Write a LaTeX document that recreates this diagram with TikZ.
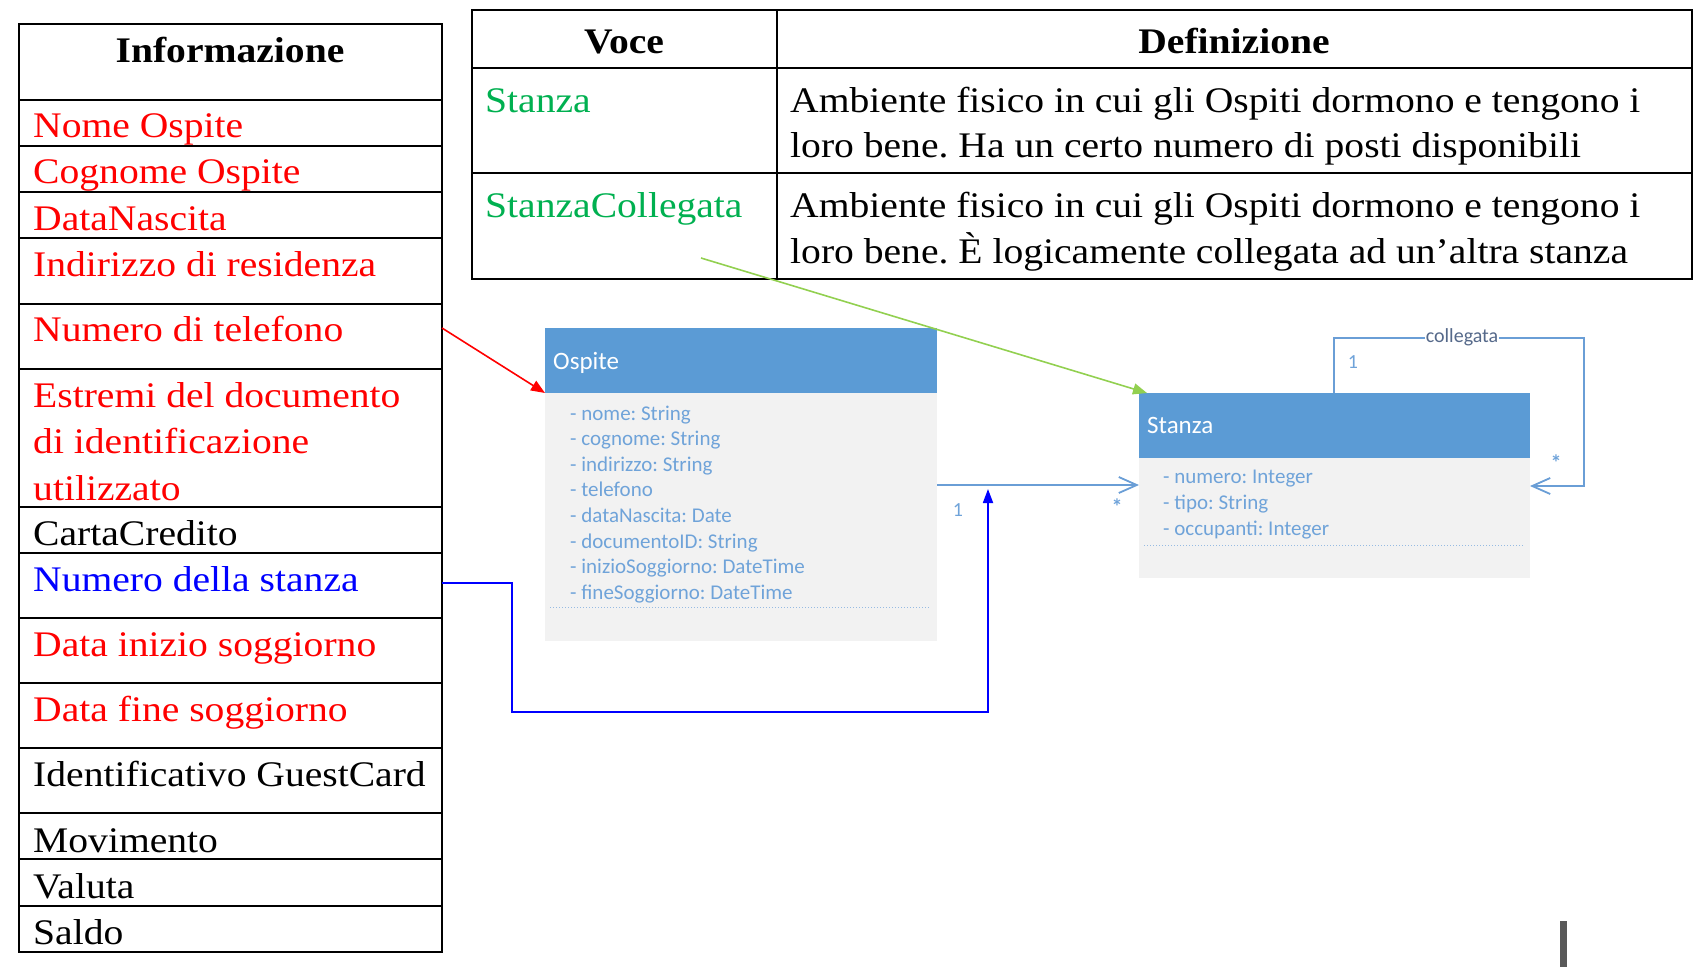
\documentclass[tikz,border=0pt]{standalone}
\usepackage{fontspec}
\setmainfont{Liberation Serif}[FakeStretch=1.1]
\newfontfamily\umlfont{Carlito}
\usetikzlibrary{arrows.meta,calc}
\definecolor{umlblue}{HTML}{5B9BD5}
\definecolor{umlbody}{HTML}{F2F2F2}
\definecolor{umlline}{HTML}{6A9ED6}
\definecolor{umltext}{HTML}{6FA3D9}
\definecolor{labgray}{HTML}{55698A}
\definecolor{okgreen}{HTML}{00B050}
\definecolor{lightgreen}{HTML}{92D050}
\definecolor{barg}{HTML}{595959}
\frenchspacing
\tikzset{
  cellbox/.style={draw, line width=2pt, inner sep=0, outer sep=0, anchor=north west},
  txt/.style={anchor=base west, inner sep=0, font=\frenchspacing\fontsize{36}{43}\selectfont},
  hdrtxt/.style={anchor=base, inner sep=0, font=\fontsize{36}{43}\selectfont\bfseries},
  umlhead/.style={fill=umlblue, draw=none, inner sep=0, outer sep=0, anchor=north west},
  umlbodybox/.style={fill=umlbody, draw=none, inner sep=0, outer sep=0, anchor=north west},
  umltitle/.style={anchor=base west, inner sep=0, text=white, font=\umlfont\fontsize{25}{30}\selectfont},
  umlattr/.style={anchor=base west, inner sep=0, text=umltext, font=\umlfont\fontsize{21}{25}\selectfont},
  umllab/.style={anchor=base, inner sep=0, text=umltext, font=\umlfont\fontsize{20}{24}\selectfont},
  assoc/.style={draw=umlline, line width=1.8pt},
  openarrow/.style={-{Straight Barb[length=18pt,width=16pt,line width=1.8pt]}},
}
\begin{document}
\begin{tikzpicture}[x=1pt,y=-1pt]
\useasboundingbox (0,0) rectangle (1697,967);

% ---------------- Left table ----------------
\node[cellbox, minimum width=423pt, minimum height=76pt]  (lHdr)   at (19,24)  {};
\node[cellbox, minimum width=423pt, minimum height=46pt]  (lNome)  at (19,100) {};
\node[cellbox, minimum width=423pt, minimum height=46pt]  (lCogn)  at (19,146) {};
\node[cellbox, minimum width=423pt, minimum height=46pt]  (lData)  at (19,192) {};
\node[cellbox, minimum width=423pt, minimum height=66pt]  (lInd)   at (19,238) {};
\node[cellbox, minimum width=423pt, minimum height=65pt]  (lTel)   at (19,304) {};
\node[cellbox, minimum width=423pt, minimum height=138pt] (lEst)   at (19,369) {};
\node[cellbox, minimum width=423pt, minimum height=46pt]  (lCarta) at (19,507) {};
\node[cellbox, minimum width=423pt, minimum height=65pt]  (lNum)   at (19,553) {};
\node[cellbox, minimum width=423pt, minimum height=65pt]  (lIni)   at (19,618) {};
\node[cellbox, minimum width=423pt, minimum height=65pt]  (lFine)  at (19,683) {};
\node[cellbox, minimum width=423pt, minimum height=65pt]  (lIdent) at (19,748) {};
\node[cellbox, minimum width=423pt, minimum height=46pt]  (lMov)   at (19,813) {};
\node[cellbox, minimum width=423pt, minimum height=47pt]  (lVal)   at (19,859) {};
\node[cellbox, minimum width=423pt, minimum height=46pt]  (lSaldo) at (19,906) {};

\node[hdrtxt] (tInfo) at (230,62) {Informazione};
\node[txt, text=red] (tNome) at (33,137) {Nome Ospite};
\node[txt, text=red] (tCogn) at (33,183) {Cognome Ospite};
\node[txt, text=red] (tData) at (33,230) {DataNascita};
\node[txt, text=red] (tInd)  at (33,276) {Indirizzo di residenza};
\node[txt, text=red] (tTel)  at (33,341) {Numero di telefono};
\node[txt, text=red] (tEst1) at (33,407) {Estremi del documento};
\node[txt, text=red] (tEst2) at (33,453) {di identificazione};
\node[txt, text=red] (tEst3) at (33,500) {utilizzato};
\node[txt] (tCarta) at (33,545) {CartaCredito};
\node[txt, text=blue] (tNum) at (33,591) {Numero della stanza};
\node[txt, text=red] (tIni)  at (33,656) {Data inizio soggiorno};
\node[txt, text=red] (tFine) at (33,721) {Data fine soggiorno};
\node[txt] (tIdent) at (33,786) {Identificativo GuestCard};
\node[txt] (tMov)   at (33,852) {Movimento};
\node[txt] (tVal)   at (33,898) {Valuta};
\node[txt] (tSaldo) at (33,944) {Saldo};

% ---------------- Right table ----------------
\node[cellbox, minimum width=305pt, minimum height=58pt]  (rV0) at (472,10)  {};
\node[cellbox, minimum width=915pt, minimum height=58pt]  (rD0) at (777,10)  {};
\node[cellbox, minimum width=305pt, minimum height=105pt] (rV1) at (472,68)  {};
\node[cellbox, minimum width=915pt, minimum height=105pt] (rD1) at (777,68)  {};
\node[cellbox, minimum width=305pt, minimum height=106pt] (rV2) at (472,173) {};
\node[cellbox, minimum width=915pt, minimum height=106pt] (rD2) at (777,173) {};

\node[hdrtxt] (tVoce) at (624,53) {Voce};
\node[hdrtxt] (tDef)  at (1234,53) {Definizione};
\node[txt, text=okgreen] (tStanza) at (485,112) {Stanza};
\node[txt] (tD11) at (790,112) {Ambiente fisico in cui gli Ospiti dormono e tengono i};
\node[txt] (tD12) at (790,157) {loro bene. Ha un certo numero di posti disponibili};
\node[txt, text=okgreen] (tStanzaC) at (485,217) {StanzaCollegata};
\node[txt] (tD21) at (790,217) {Ambiente fisico in cui gli Ospiti dormono e tengono i};
\node[txt] (tD22) at (790,263) {loro bene. È logicamente collegata ad un’altra stanza};

% ---------------- UML: Ospite ----------------
\node[umlhead, minimum width=392pt, minimum height=65pt] (ospH) at (545,328) {};
\node[umlbodybox, minimum width=392pt, minimum height=248pt] (ospB) at (545,393) {};
\draw[umlline!70, line width=1pt, dotted] ($(ospB.north west)+(5,214)$) -- ($(ospB.north east)+(-7,214)$);
\node[umltitle] (ospT) at (553,369) {Ospite};
\node[umlattr] (oa1) at (570,420.0) {- nome: String};
\node[umlattr] (oa2) at (570,445.6) {- cognome: String};
\node[umlattr] (oa3) at (570,471.2) {- indirizzo: String};
\node[umlattr] (oa4) at (570,496.8) {- telefono};
\node[umlattr] (oa5) at (570,522.4) {- dataNascita: Date};
\node[umlattr] (oa6) at (570,548.0) {- documentoID: String};
\node[umlattr] (oa7) at (570,573.6) {- inizioSoggiorno: DateTime};
\node[umlattr] (oa8) at (570,599.2) {- fineSoggiorno: DateTime};

% ---------------- UML: Stanza ----------------
\node[umlhead, minimum width=391pt, minimum height=65pt] (stzH) at (1139,393) {};
\node[umlbodybox, minimum width=391pt, minimum height=120pt] (stzB) at (1139,458) {};
\draw[umlline!70, line width=1pt, dotted] ($(stzB.north west)+(5,87)$) -- ($(stzB.north east)+(-6,87)$);
\node[umltitle] (stzT) at (1147,433) {Stanza};
\node[umlattr] (sa1) at (1163,483) {- numero: Integer};
\node[umlattr] (sa2) at (1163,509) {- tipo: String};
\node[umlattr] (sa3) at (1163,535) {- occupanti: Integer};

% ---------------- Associations ----------------
\coordinate (assA) at (ospB.east |- 0,485);
\coordinate (assB) at (stzB.west |- 0,485);
\draw[assoc, openarrow] (assA) -- (assB);
\node[umllab] (m1) at (958,516) {1};
\node[umllab, font=\umlfont\bfseries\fontsize{22}{26}\selectfont] (m2) at (1117,514) {*};

\coordinate (selfA) at (stzH.north -| 1334,0);
\coordinate (selfB) at (stzB.east |- 0,486);
\draw[assoc, openarrow] (selfA) -- (1334,338) -- (1584,338) -- (1584,486) -- (selfB);
\node[anchor=center, inner sep=1pt, fill=white, text=labgray, font=\umlfont\fontsize{20}{24}\selectfont] (collab) at (1462,337) {collegata};
\node[umllab] (s1) at (1353,368) {1};
\node[umllab, font=\umlfont\bfseries\fontsize{22}{26}\selectfont] (s2) at (1556,470) {*};

% ---------------- Annotation arrows ----------------
\coordinate (redA) at (lTel.east |- 0,328);
\draw[red, line width=1.6pt, -{Triangle[length=14pt,width=11pt]}] (redA) -- (ospH.south west);
\coordinate (greenA) at (701,258);
\coordinate (greenB) at (1147,393);
\draw[lightgreen, line width=1.6pt, -{Triangle[length=14pt,width=11pt]}] (greenA) -- (greenB);
\coordinate (blueA) at (lNum.east |- 0,583);
\coordinate (blueB) at (988,489);
\draw[blue, line width=1.8pt, -{Triangle[length=14pt,width=10pt]}] (blueA) -- (512,583) -- (512,712) -- (988,712) -- (blueB);

% ---------------- Bottom-right bar ----------------
\fill[barg] (1560,921) rectangle (1567,967);
\end{tikzpicture}
\end{document}
